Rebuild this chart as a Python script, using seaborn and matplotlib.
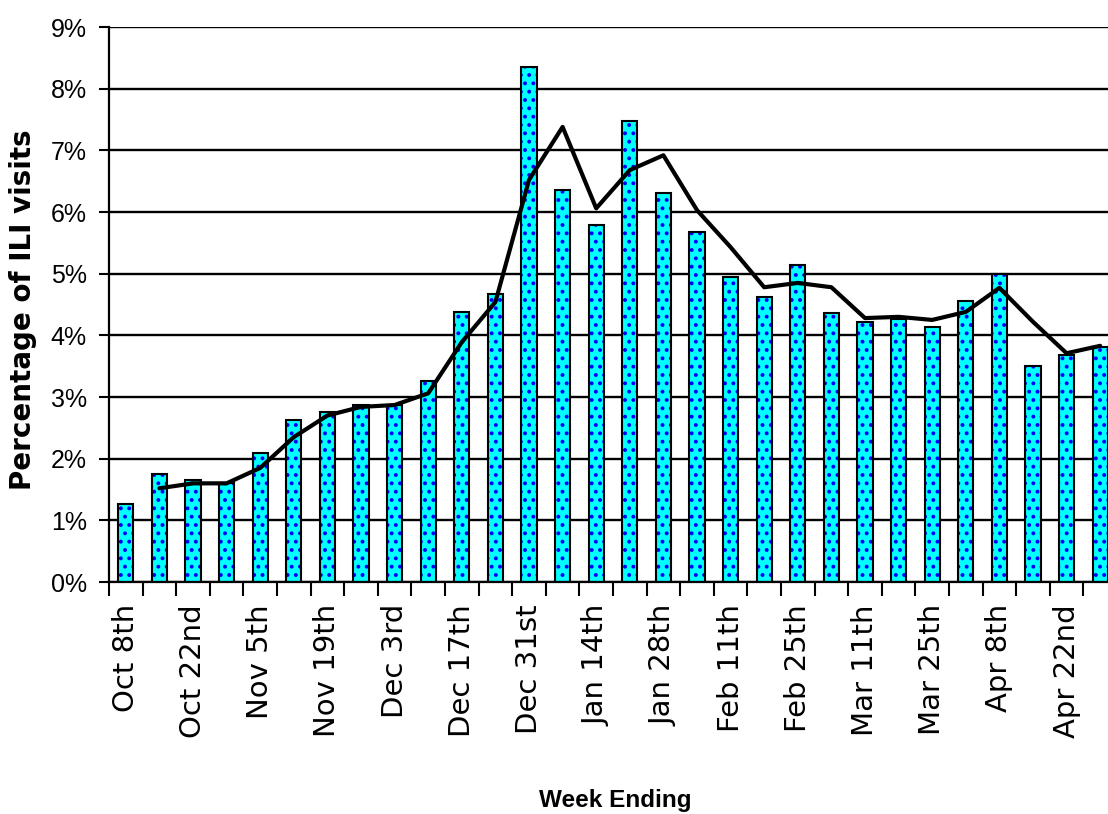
import matplotlib
matplotlib.use("Agg")
import matplotlib.pyplot as plt
import seaborn as sns
import pandas as pd
import numpy as np

# Weekly ILI data, Oct 8th to Apr 29th
weeks = ["Oct 8th", "Oct 15th", "Oct 22nd", "Oct 29th", "Nov 5th", "Nov 12th",
         "Nov 19th", "Nov 26th", "Dec 3rd", "Dec 10th", "Dec 17th", "Dec 24th",
         "Dec 31st", "Jan 7th", "Jan 14th", "Jan 21st", "Jan 28th", "Feb 4th",
         "Feb 11th", "Feb 18th", "Feb 25th", "Mar 4th", "Mar 11th", "Mar 18th",
         "Mar 25th", "Apr 1st", "Apr 8th", "Apr 15th", "Apr 22nd", "Apr 29th"]
ili_pct = [1.26, 1.75, 1.65, 1.60, 2.09, 2.63, 2.76, 2.87, 2.87, 3.26,
           4.38, 4.67, 8.35, 6.36, 5.79, 7.48, 6.31, 5.68, 4.95, 4.62,
           5.14, 4.36, 4.22, 4.26, 4.13, 4.56, 4.99, 3.50, 3.68, 3.81]

# trend line starts at the second week
avg_weeks = weeks[1:]
avg_pct = [1.52, 1.60, 1.60, 1.85, 2.35, 2.70, 2.84, 2.87, 3.06, 3.89,
           4.54, 6.52, 7.38, 6.06, 6.68, 6.92, 6.03, 5.43, 4.78, 4.85,
           4.78, 4.28, 4.30, 4.25, 4.38, 4.77, 4.22, 3.71, 3.83]

x_labels = weeks[::2]
y_ticks = list(range(0, 10))
y_labels = [f"{v}%" for v in y_ticks]

sns.set_theme(style="white")
plt.rcParams['font.family'] = ['Liberation Sans', 'DejaVu Sans']
plt.rcParams['hatch.linewidth'] = 1.6

df = pd.DataFrame({"week": weeks, "pct": ili_pct})
avg_x = [weeks.index(w) for w in avg_weeks]

fig = plt.figure(figsize=(11.08, 8.14), dpi=100)
ax = fig.add_axes([0.0984, 0.285, 0.9097, 0.6818])

# dotted cyan fill, then black outline on top
sns.barplot(data=df, x="week", y="pct", color="#00FFFF", saturation=1,
            width=0.45, edgecolor="#0000FF", hatch="..", linewidth=0, ax=ax)
sns.barplot(data=df, x="week", y="pct", fill=False, color="black",
            width=0.45, linewidth=1.5, ax=ax)

sns.lineplot(x=avg_x, y=avg_pct, color="black", linewidth=3, ax=ax)

ax.set_xlim(-0.5, len(weeks) - 0.5)
ax.set_ylim(0, 9)

# tick marks between categories, labels on every other week
ax.set_xticks(np.arange(-0.5, len(weeks), 1), labels=[])
ax.set_xticks(range(0, len(weeks), 2), labels=x_labels, minor=True)
ax.tick_params(axis="x", which="major", direction="out", length=10, width=1.5,
               color="black", bottom=True)
ax.tick_params(axis="x", which="minor", length=0, pad=16, bottom=True)
for lbl in ax.get_xticklabels(minor=True):
    lbl.set_rotation(90)
    lbl.set_family(["DejaVu Sans"])
    lbl.set_fontsize(21)
    lbl.set_color("black")

ax.set_yticks(y_ticks, labels=y_labels)
ax.tick_params(axis="y", direction="out", length=7, width=1.5, color="black",
               left=True, pad=9, labelsize=18, labelcolor="black")

ax.grid(axis="y", color="black", linewidth=1.7)
ax.grid(axis="x", visible=False)
ax.set_axisbelow(True)

for side in ["top", "right"]:
    ax.spines[side].set_visible(False)
for side in ["left", "bottom"]:
    ax.spines[side].set_color("black")
    ax.spines[side].set_linewidth(1.6)

ax.set_ylabel("Percentage of ILI visits", fontsize=20, fontweight="bold",
              family=["DejaVu Sans"], color="black", va="center")
ax.yaxis.set_label_coords(-0.085, 0.49)
ax.set_xlabel("Week Ending", fontsize=17.5, fontweight="bold",
              family=["Liberation Sans"], color="black", va="center")
ax.xaxis.set_label_coords(0.502, -0.393)

plt.savefig("out.png", dpi=100)
plt.close()
